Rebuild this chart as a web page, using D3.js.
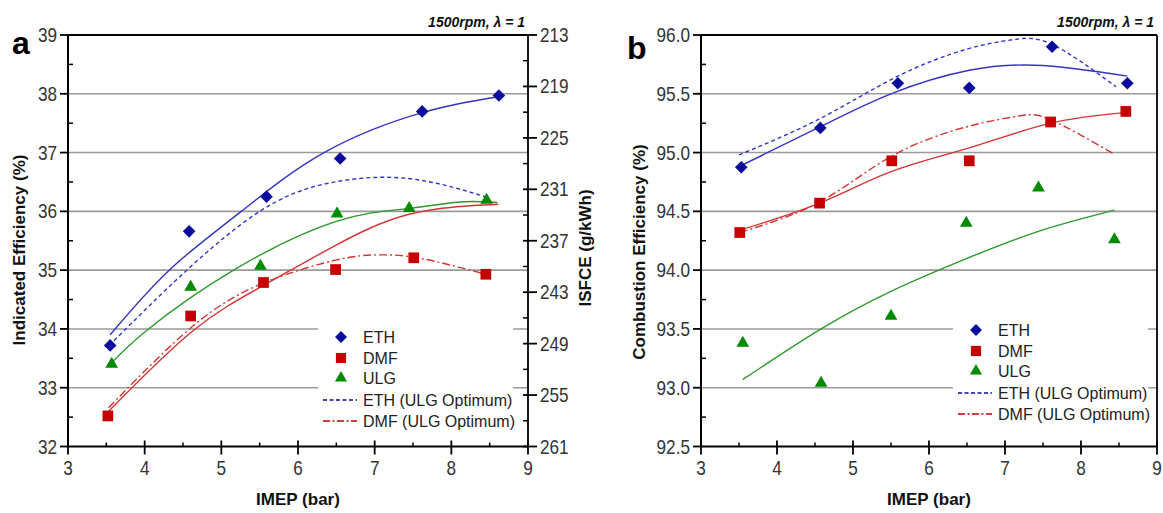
<!DOCTYPE html>
<html>
<head>
<meta charset="utf-8">
<script src="https://cdn.jsdelivr.net/npm/d3@7"></script>
<style>
  body { margin: 0; background: #fff; }
  svg { display: block; }
  .tick-label { font-family: "Liberation Sans", Arial, sans-serif; font-size: 20px; fill: #333; }
  .axis-title { font-family: "Liberation Sans", Arial, sans-serif; font-size: 17px; font-weight: bold; fill: #111; }
  .legend-text { font-family: "Liberation Sans", Arial, sans-serif; font-size: 16px; fill: #222; }
  .panel-letter { font-family: "Liberation Sans", Arial, sans-serif; font-size: 32px; font-weight: bold; fill: #000; }
  .condition { font-family: "Liberation Sans", Arial, sans-serif; font-size: 14px; font-weight: bold; font-style: italic; fill: #111; }
</style>
</head>
<body>
<div id="chart"></div>
<script>
// ---- data ----
const fuels = ['ETH', 'DMF', 'ULG'];
const optimumSeries = ['ETH (ULG Optimum)', 'DMF (ULG Optimum)'];
const xTicks = [3, 4, 5, 6, 7, 8, 9];

// panel a: indicated efficiency (%)
const ethIndicated = [[3.55, 33.72], [4.58, 35.66], [5.59, 36.25], [6.55, 36.9], [7.62, 37.7], [8.62, 37.97]];
const dmfIndicated = [[3.52, 32.52], [4.6, 34.22], [5.55, 34.79], [6.49, 35.01], [7.51, 35.21], [8.45, 34.93]];
const ulgIndicated = [[3.57, 33.4], [4.6, 34.71], [5.51, 35.07], [6.51, 35.96], [7.45, 36.05], [8.46, 36.19]];
const ethIndicatedFit = [[3.55, 33.9], [4.32, 35.0], [5.26, 36.0], [6.34, 37.0], [7.62, 37.68], [8.62, 37.95]];
const dmfIndicatedFit = [[3.53, 32.6], [4.63, 33.97], [5.55, 34.74], [6.46, 35.4], [7.45, 35.95], [8.61, 36.12]];
const ulgIndicatedFit = [[3.55, 33.4], [4.05, 34.0], [5.16, 35.0], [6.5, 35.83], [7.45, 36.05], [8.1, 36.16], [8.6, 36.15]];
const ethIndicatedOpt = [[3.6, 33.8], [4.55, 35.0], [5.5, 36.0], [6.3, 36.45], [7.1, 36.58], [7.8, 36.48], [8.44, 36.25]];
const dmfIndicatedOpt = [[3.53, 32.66], [4.63, 34.05], [5.55, 34.78], [6.49, 35.17], [7.05, 35.26], [7.6, 35.2], [8.45, 34.93]];
const indicatedTicks = [32, 33, 34, 35, 36, 37, 38, 39];
const isfceTicks = [213, 219, 225, 231, 237, 243, 249, 255, 261];

// panel b: combustion efficiency (%)
const ethCombustion = [[3.53, 94.875], [4.57, 95.21], [5.59, 95.59], [6.53, 95.55], [7.62, 95.9], [8.61, 95.59]];
const dmfCombustion = [[3.51, 94.32], [4.56, 94.57], [5.51, 94.93], [6.53, 94.93], [7.6, 95.26], [8.59, 95.35]];
const ulgCombustion = [[3.55, 93.38], [4.58, 93.04], [5.5, 93.61], [6.49, 94.4], [7.44, 94.7], [8.44, 94.26]];
const ethCombustionFit = [[3.53, 94.89], [4.57, 95.22], [5.5, 95.5], [6.53, 95.7], [7.5, 95.74], [8.61, 95.65]];
const dmfCombustionFit = [[3.51, 94.34], [4.56, 94.57], [5.51, 94.84], [6.53, 95.04], [7.6, 95.25], [8.59, 95.34]];
const ulgCombustionFit = [[3.55, 93.07], [4.58, 93.5], [5.5, 93.82], [6.5, 94.1], [7.44, 94.33], [8.44, 94.51]];
const ethCombustionOpt = [[3.5, 94.98], [4.57, 95.29], [5.59, 95.65], [6.5, 95.88], [7.1, 95.96], [7.62, 95.92], [8.46, 95.56]];
const dmfCombustionOpt = [[3.51, 94.32], [4.56, 94.58], [5.51, 94.97], [6.5, 95.22], [7.18, 95.31], [7.6, 95.28], [8.43, 94.99]];
const combustionTicks = [92.5, 93.0, 93.5, 94.0, 94.5, 95.0, 95.5, 96.0];

const colors = {
  ETH: { marker: '#0c0c9c', line: '#3434c4' },
  DMF: { marker: '#c40000', line: '#d43434' },
  ULG: { marker: '#008a00', line: '#2e9a2e' },
};

const svg = d3.select('#chart').append('svg')
  .attr('width', 1163)
  .attr('height', 513);

// narrow-looking tick numbers: squeeze regular glyphs horizontally
function tickText(sel, xf, yf, anchor, fmt) {
  sel.append('text')
    .attr('class', 'tick-label')
    .attr('text-anchor', anchor)
    .attr('transform', (d) => `translate(${xf(d)},${yf(d)}) scale(0.86,1)`)
    .text(fmt);
}

const shapes = { ETH: d3.symbolSquare, DMF: d3.symbolSquare, ULG: d3.symbolTriangle };
const sizes = { ETH: 80, DMF: 115, ULG: 70 };
const rotations = { ETH: 45, DMF: 0, ULG: 0 };

function drawPanel(p) {
  const g = svg.append('g');
  const x = d3.scaleLinear().domain([3, 9]).range([p.left, p.right]);
  const y = d3.scaleLinear().domain(p.yDomain).range([p.bottom, p.top]);

  // gridlines at the major ticks
  g.selectAll('.grid')
    .data(p.yTicks.slice(1, -1))
    .enter().append('line')
    .attr('x1', p.left).attr('x2', p.right)
    .attr('y1', (d) => y(d)).attr('y2', (d) => y(d))
    .attr('stroke', '#9a9a9a').attr('stroke-width', 1.6);

  // legend box sits over the grid
  const lg = g.append('g').attr('transform', `translate(${p.legendX},${p.legendY})`);
  lg.append('rect').attr('x', -5).attr('y', -14).attr('width', 195).attr('height', 110).attr('fill', '#fff');

  // fitted curves
  const line = d3.line().x((d) => x(d[0])).y((d) => y(d[1])).curve(d3.curveNatural);
  p.curves.forEach((c) => {
    g.append('path')
      .attr('d', line(c.data))
      .attr('fill', 'none')
      .attr('stroke', colors[c.fuel].line)
      .attr('stroke-width', 1.4)
      .attr('stroke-dasharray', c.dash || null);
  });

  // markers
  p.points.forEach((s) => {
    g.selectAll(null)
      .data(s.data)
      .enter().append('path')
      .attr('d', d3.symbol().type(shapes[s.fuel]).size(sizes[s.fuel]))
      .attr('transform', (d) => `translate(${x(d[0])},${y(d[1])}) rotate(${rotations[s.fuel]})`)
      .attr('fill', colors[s.fuel].marker);
  });

  // legend entries
  const rowY = p.legendRows;
  fuels.forEach((f, i) => {
    lg.append('path')
      .attr('d', d3.symbol().type(shapes[f]).size(sizes[f] * 0.9))
      .attr('transform', `translate(18,${rowY[i]}) rotate(${rotations[f]})`)
      .attr('fill', colors[f].marker);
    lg.append('text').attr('class', 'legend-text')
      .attr('x', 40).attr('y', rowY[i] + 6).text(f);
  });
  optimumSeries.forEach((name, i) => {
    const f = fuels[i];
    const yy = rowY[i + 3];
    lg.append('line')
      .attr('x1', 0).attr('x2', 34).attr('y1', yy).attr('y2', yy)
      .attr('stroke', colors[f].marker).attr('stroke-width', 1.6)
      .attr('stroke-dasharray', i === 0 ? '4,2.5' : '7,2.5,2,2.5');
    lg.append('text').attr('class', 'legend-text')
      .attr('x', 40).attr('y', yy + 6).text(name);
  });

  // frame
  g.append('line').attr('x1', p.left).attr('x2', p.right).attr('y1', p.top).attr('y2', p.top)
    .attr('stroke', '#000').attr('stroke-width', 1.8);
  g.append('line').attr('x1', p.right).attr('x2', p.right).attr('y1', p.top).attr('y2', p.bottom)
    .attr('stroke', '#000').attr('stroke-width', 1.8);

  // bottom axis
  const xAxis = g.append('g').attr('transform', `translate(0,${p.bottom})`);
  xAxis.append('line').attr('x1', p.left).attr('x2', p.right).attr('stroke', '#000').attr('stroke-width', 2);
  xAxis.selectAll('.maj').data(xTicks).enter().append('line')
    .attr('x1', (d) => x(d)).attr('x2', (d) => x(d)).attr('y1', -6).attr('y2', 8)
    .attr('stroke', '#000').attr('stroke-width', 1.8);
  xAxis.selectAll('.min').data(xTicks.slice(0, -1).map((d) => d + 0.5)).enter().append('line')
    .attr('x1', (d) => x(d)).attr('x2', (d) => x(d)).attr('y1', -4).attr('y2', 0)
    .attr('stroke', '#000').attr('stroke-width', 1.5);
  tickText(xAxis.selectAll(null).data(xTicks).enter(), (d) => x(d), () => 28, 'middle', (d) => d);

  // left axis
  const yAxis = g.append('g').attr('transform', `translate(${p.left},0)`);
  yAxis.append('line').attr('y1', p.top).attr('y2', p.bottom).attr('stroke', '#000').attr('stroke-width', 2);
  yAxis.selectAll('.maj').data(p.yTicks).enter().append('line')
    .attr('x1', -8).attr('x2', 0).attr('y1', (d) => y(d)).attr('y2', (d) => y(d))
    .attr('stroke', '#000').attr('stroke-width', 1.8);
  const step = p.yTicks[1] - p.yTicks[0];
  yAxis.selectAll('.min').data(p.yTicks.slice(0, -1).map((d) => d + step / 2)).enter().append('line')
    .attr('x1', 0).attr('x2', 5).attr('y1', (d) => y(d)).attr('y2', (d) => y(d))
    .attr('stroke', '#000').attr('stroke-width', 1.5);
  tickText(yAxis.selectAll(null).data(p.yTicks).enter(), () => -11, (d) => y(d) + 7, 'end', p.yFormat);

  // axis titles
  g.append('text').attr('class', 'axis-title')
    .attr('x', (p.left + p.right) / 2).attr('y', 505).attr('text-anchor', 'middle')
    .text('IMEP (bar)');
  g.append('text').attr('class', 'axis-title')
    .attr('transform', `translate(${p.yTitleX},${p.yTitleY}) rotate(-90)`)
    .attr('text-anchor', 'middle').text(p.yTitle);

  g.append('text').attr('class', 'panel-letter').attr('x', p.letterX).attr('y', p.letterY).text(p.letter);
  g.append('text').attr('class', 'condition').attr('x', p.right - 3).attr('y', 27)
    .attr('text-anchor', 'end').text('1500rpm, λ = 1');

  return { g, x, y };
}

// panel a
const a = drawPanel({
  left: 68, right: 528, top: 35, bottom: 446.5,
  yDomain: [32, 39], yTicks: indicatedTicks, yFormat: (d) => d,
  yTitle: 'Indicated Efficiency (%)', yTitleX: 25, yTitleY: 250,
  letter: 'a', letterX: 12, letterY: 54,
  legendX: 323, legendY: 337, legendRows: [0, 21, 41, 63, 84],
  points: [
    { fuel: 'ETH', data: ethIndicated },
    { fuel: 'DMF', data: dmfIndicated },
    { fuel: 'ULG', data: ulgIndicated },
  ],
  curves: [
    { fuel: 'ETH', data: ethIndicatedFit },
    { fuel: 'DMF', data: dmfIndicatedFit },
    { fuel: 'ULG', data: ulgIndicatedFit },
    { fuel: 'ETH', data: ethIndicatedOpt, dash: '4,3' },
    { fuel: 'DMF', data: dmfIndicatedOpt, dash: '8,3,2,3' },
  ],
});

// secondary ISFCE axis on panel a
const isfce = d3.scaleLinear().domain([213, 261]).range([35, 446.5]);
const rAxis = a.g.append('g').attr('transform', 'translate(528,0)');
rAxis.selectAll('.maj').data(isfceTicks).enter().append('line')
  .attr('x1', -5).attr('x2', 9).attr('y1', (d) => isfce(d)).attr('y2', (d) => isfce(d))
  .attr('stroke', '#000').attr('stroke-width', 1.8);
rAxis.selectAll('.min').data(isfceTicks.slice(0, -1).map((d) => d + 3)).enter().append('line')
  .attr('x1', -5).attr('x2', 0).attr('y1', (d) => isfce(d)).attr('y2', (d) => isfce(d))
  .attr('stroke', '#000').attr('stroke-width', 1.5);
tickText(rAxis.selectAll(null).data(isfceTicks).enter(), () => 12, (d) => isfce(d) + 7, 'start', (d) => d);
a.g.append('text').attr('class', 'axis-title')
  .attr('transform', 'translate(591,248) rotate(-90)')
  .attr('text-anchor', 'middle').text('ISFCE (g/kWh)');

// panel b
drawPanel({
  left: 701, right: 1157, top: 35, bottom: 446.5,
  yDomain: [92.5, 96.0], yTicks: combustionTicks, yFormat: d3.format('.1f'),
  yTitle: 'Combustion Efficiency (%)', yTitleX: 645, yTitleY: 252,
  letter: 'b', letterX: 627, letterY: 59,
  legendX: 958, legendY: 330, legendRows: [0, 21, 41, 63, 84],
  points: [
    { fuel: 'ETH', data: ethCombustion },
    { fuel: 'DMF', data: dmfCombustion },
    { fuel: 'ULG', data: ulgCombustion },
  ],
  curves: [
    { fuel: 'ETH', data: ethCombustionFit },
    { fuel: 'DMF', data: dmfCombustionFit },
    { fuel: 'ULG', data: ulgCombustionFit },
    { fuel: 'ETH', data: ethCombustionOpt, dash: '4,3' },
    { fuel: 'DMF', data: dmfCombustionOpt, dash: '8,3,2,3' },
  ],
});
</script>
</body>
</html>
